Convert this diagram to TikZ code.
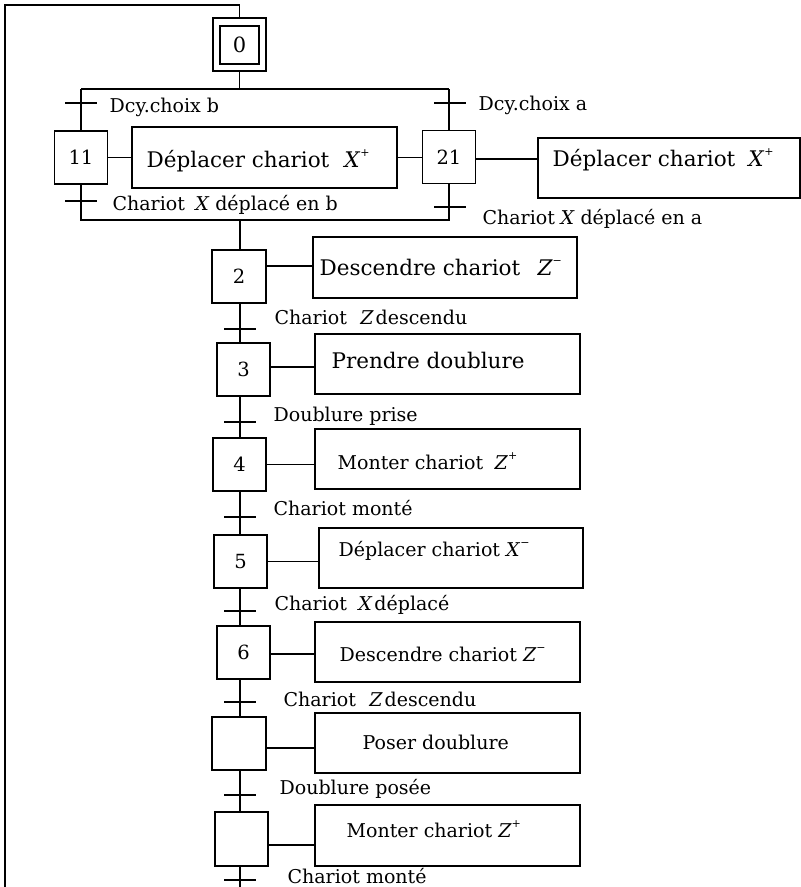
\documentclass[tikz,border=0pt]{standalone}
\usepackage{fontspec}
\setmainfont{DejaVu Serif}
\newcommand{\supp}[1]{\raisebox{0.5em}{\fontsize{11}{11}\selectfont #1}}
\begin{document}
\begin{tikzpicture}[x=1pt,y=-1pt,line width=1.3pt,
  stepbox/.style={draw,minimum width=53pt,minimum height=53pt,inner sep=0pt,font=\fontsize{19.5}{22}\selectfont},
  actbox/.style={draw,inner sep=0pt},
  bigtxt/.style={anchor=base west,inner sep=0pt,font=\fontsize{21.5}{24}\selectfont},
  acttxt/.style={anchor=base west,inner sep=0pt,font=\fontsize{19}{22}\selectfont},
  lbl/.style={anchor=base west,inner sep=0pt,font=\fontsize{19}{22}\selectfont}]
\useasboundingbox (0,0) rectangle (801,887);
\newcommand{\tick}[1]{\draw ([xshift=-16pt]#1) -- ([xshift=16pt]#1);}
% initial step
\node[draw,minimum width=53pt,minimum height=53pt,inner sep=0pt] (s0) at (239.5,44.5) {};
\node[stepbox,minimum width=39pt,minimum height=38pt,font=\fontsize{21}{24}\selectfont] (s0i) at (239.5,45) {0};
% loop back line
\coordinate (lt) at (239.5,5);
\coordinate (ll) at (5,5);
\coordinate (lb) at (5,887);
\draw (s0.north) -- (lt) -- (ll) -- (lb);
% divergence
\coordinate (dl) at (81,89);
\coordinate (dr) at (449,89);
\draw (s0.south) -- (s0.south |- dl);
\draw (dl) -- (dr);
% branch steps
\node[stepbox] (s11) at (81,157.5) {11};
\node[stepbox] (s21) at (449,157) {21};
\coordinate (t11a) at (81,103);
\coordinate (t21a) at (450,103);
\draw (dl) -- (s11.north);
\draw (dr) -- (s21.north);
\tick{t11a}
\tick{t21a}
\node[lbl] (l11a) at (109,112) {Dcy.choix b};
\node[lbl] (l21a) at (478,110) {Dcy.choix a};
% branch actions
\node[actbox,minimum width=265pt,minimum height=61pt] (a11) at (264.5,157.5) {};
\node[bigtxt] (x11) at (146,167) {Déplacer chariot\hspace{0.7em}\textit{X}\supp{+}};
\node[actbox,minimum width=262pt,minimum height=60pt] (a21) at (669,168) {};
\node[bigtxt] (x21) at (552,166) {Déplacer chariot\hspace{0.6em}\textit{X}\supp{+}};
\draw (s11.east) -- (a11.west);
\draw (a11.east) -- (a11.east -| s21.west);
\draw ([yshift=-2pt]s21.east) -- ([yshift=-2pt]s21.east -| a21.west);
% convergence
\coordinate (cl) at (81,220);
\coordinate (cr) at (449,220);
\coordinate (cm) at (240,220);
\coordinate (t11b) at (81,201);
\coordinate (t21b) at (450,207);
\draw (s11.south) -- (cl) -- (cr) -- (s21.south);
\tick{t11b}
\tick{t21b}
\node[lbl] (l11b) at (112,210) {Chariot\hspace{0.55em}\textit{X}\hspace{0.3em}déplacé en b};
\node[lbl] (l21b) at (482,224) {Chariot\hspace{0.3em}\textit{X}\hspace{0.3em}déplacé en a};
% main sequence steps
\node[stepbox,minimum width=54pt] (s2) at (239,276.5) {2};
\node[stepbox] (s3) at (243.5,369.5) {3};
\node[stepbox] (s4) at (239.5,464.5) {4};
\node[stepbox] (s5) at (240.5,561.5) {5};
\node[stepbox] (s6) at (243.5,652.5) {6};
\node[stepbox,minimum width=54pt] (s7) at (239,743.5) {};
\node[stepbox,minimum height=54pt] (s8) at (241.5,839) {};
% action boxes
\node[actbox,minimum width=264pt,minimum height=61pt] (a2) at (445,267.5) {};
\node[actbox,minimum width=265pt,minimum height=60pt] (a3) at (447.5,364) {};
\node[actbox,minimum width=265pt,minimum height=60pt] (a4) at (447.5,459) {};
\node[actbox,minimum width=264pt,minimum height=60pt] (a5) at (451,558) {};
\node[actbox,minimum width=265pt,minimum height=60pt] (a6) at (447.5,652) {};
\node[actbox,minimum width=265pt,minimum height=60pt] (a7) at (447.5,743) {};
\node[actbox,minimum width=265pt,minimum height=61pt] (a8) at (447.5,835.5) {};
\node[bigtxt] (x2) at (319,275) {Descendre chariot\hspace{0.8em}\textit{Z}\supp{−}};
\node[bigtxt] (x3) at (331,368) {Prendre doublure};
\node[acttxt] (x4) at (337,469) {Monter chariot\hspace{0.6em}\textit{Z}\supp{+}};
\node[acttxt] (x5) at (338,556) {Déplacer chariot \textit{X}\supp{−}};
\node[acttxt] (x6) at (339,661) {Descendre chariot \textit{Z}\supp{−}};
\node[acttxt] (x7) at (362,749) {Poser doublure};
\node[acttxt] (x8) at (346,837) {Monter chariot \textit{Z}\supp{+}};
% step-action connectors
\draw ([yshift=10.5pt]s2.east) -- ([yshift=10.5pt]s2.east -| a2.west);
\draw ([yshift=2.5pt]s3.east) -- ([yshift=2.5pt]s3.east -| a3.west);
\draw (s4.east) -- (s4.east -| a4.west);
\draw (s5.east) -- (s5.east -| a5.west);
\draw ([yshift=-1.5pt]s6.east) -- ([yshift=-1.5pt]s6.east -| a6.west);
\draw ([yshift=-4.5pt]s7.east) -- ([yshift=-4.5pt]s7.east -| a7.west);
\draw ([yshift=-6pt]s8.east) -- ([yshift=-6pt]s8.east -| a8.west);
% main vertical links
\coordinate (bot) at (240,887);
\draw (cm) -- (cm |- s2.north);
\draw (s2.south -| cm) -- (cm |- s3.north);
\draw (s3.south -| cm) -- (cm |- s4.north);
\draw (s4.south -| cm) -- (cm |- s5.north);
\draw (s5.south -| cm) -- (cm |- s6.north);
\draw (s6.south -| cm) -- (cm |- s7.north);
\draw (s7.south -| cm) -- (cm |- s8.north);
\draw (s8.south -| cm) -- (bot);
% transitions
\coordinate (t2) at (240,329);
\coordinate (t3) at (240,422);
\coordinate (t4) at (240,517);
\coordinate (t5) at (240,611);
\coordinate (t6) at (240,702);
\coordinate (t7) at (240,795);
\coordinate (t8) at (240,880);
\tick{t2}\tick{t3}\tick{t4}\tick{t5}\tick{t6}\tick{t7}\tick{t8}
\node[lbl] (l2) at (274,324) {Chariot\hspace{0.7em}\textit{Z}\hspace{0.1em}descendu};
\node[lbl] (l3) at (273,421) {Doublure prise};
\node[lbl] (l4) at (273,515) {Chariot monté};
\node[lbl] (l5) at (274,610) {Chariot\hspace{0.6em}\textit{X}\hspace{0.1em}déplacé};
\node[lbl] (l6) at (283,706) {Chariot\hspace{0.7em}\textit{Z}\hspace{0.1em}descendu};
\node[lbl] (l7) at (279,794) {Doublure posée};
\node[lbl] (l8) at (287,883) {Chariot monté};
\end{tikzpicture}
\end{document}
